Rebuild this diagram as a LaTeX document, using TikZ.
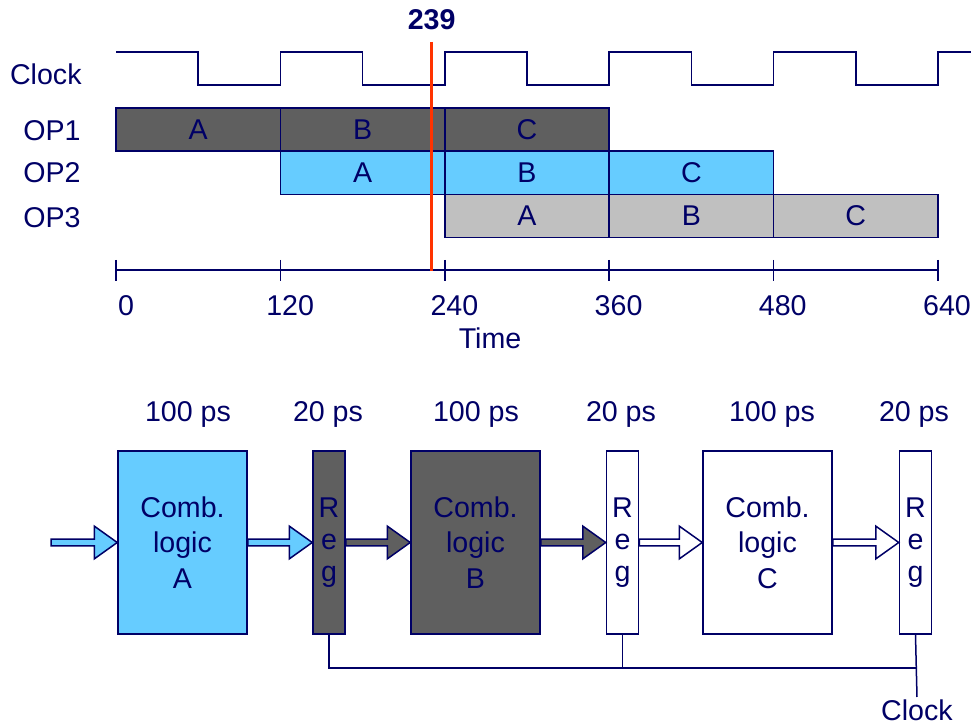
\documentclass[tikz,border=0pt]{standalone}
\usepackage{fontspec}
\setmainfont{Liberation Sans}
\usetikzlibrary{calc}
\definecolor{navy}{RGB}{0,0,102}
\definecolor{opdark}{HTML}{5F5F5F}
\definecolor{opblue}{HTML}{66CCFF}
\definecolor{oplight}{HTML}{C0C0C0}
\definecolor{marker}{HTML}{FF3300}
\tikzset{
  txt/.style={text=navy, font=\fontsize{14.3}{17.8}\selectfont},
  wire/.style={draw=navy, line width=0.75pt},
  cell/.style={wire, txt, minimum width=82.2pt, minimum height=21.7pt, inner sep=0pt},
  comb/.style={wire, txt, minimum width=64.5pt, minimum height=91.5pt, align=center},
  reg/.style={wire, txt, font=\fontsize{14.3}{16}\selectfont, minimum width=16pt,
    minimum height=91.5pt, align=center, inner sep=0pt},
}
% block arrow from one node anchor to another
\newcommand{\blockarrow}[3]{%
  \filldraw[wire, fill=#3] ($(#1)+(0,1.7pt)$) -- ($(#2)+(-11.5pt,1.7pt)$)
    -- ($(#2)+(-11.5pt,8.2pt)$) -- (#2) -- ($(#2)+(-11.5pt,-8.2pt)$)
    -- ($(#2)+(-11.5pt,-1.7pt)$) -- ($(#1)+(0,-1.7pt)$) -- cycle;}
\begin{document}
\begin{tikzpicture}[x=0.5pt, y=-0.5pt]
    \useasboundingbox (0,0) rectangle (971,727);
    % timing diagram
    \node[txt, anchor=east, inner sep=0pt] (lclock) at (82,74.5) {Clock};
    \node[txt, anchor=east, inner sep=0pt] (lop1) at (81,131) {OP1};
    \node[txt, anchor=east, inner sep=0pt] (lop2) at (81,173) {OP2};
    \node[txt, anchor=east, inner sep=0pt] (lop3) at (81,218) {OP3};
    \draw[wire] (116,52) \foreach \k in {0,...,4} { -- ++(82.2,0) -- ++(0,33) -- ++(82.2,0) -- ++(0,-33) } -- (971,52);
    \foreach \lbl [count=\i from 0] in {A,B,C} {
        \node[cell, fill=opdark] (op1\lbl) at (198.2+164.4*\i,129.5) {\lbl};
        \node[cell, fill=opblue] (op2\lbl) at (362.6+164.4*\i,172.8) {\lbl};
        \node[cell, fill=oplight] (op3\lbl) at (527+164.4*\i,216) {\lbl};
    }
    \draw[wire] (116,270) -- (938,270);
    \foreach \x in {0,...,5}
        \draw[wire] (116+164.4*\x,260) -- ++(0,21);
    \foreach \t [count=\i from 0] in {0,120,240,360,480,640}
        \node[txt] (t\t) at (126+164.2*\i,305.5) {\t};
    \node[txt] (time) at (490,338.5) {Time};
    \coordinate (now) at (431.7,42);
    \coordinate (nowend) at (431.7,271);
    \draw[marker, line width=1.5pt] (now) -- (nowend);
    \node[txt, font=\fontsize{14.3}{17}\selectfont\bfseries] (nowlbl) at (431.7,19.5) {239};
    % pipeline
    \node[comb, fill=opblue] (combA) at (182.5,542.5) {Comb.\\logic\\A};
    \node[reg, fill=opdark] (regA) at (329,542.5) {R\\e\\g};
    \node[comb, fill=opdark] (combB) at (475.5,542.5) {Comb.\\logic\\B};
    \node[reg, fill=white] (regB) at (622.5,542.5) {R\\e\\g};
    \node[comb, fill=white] (combC) at (767.5,542.5) {Comb.\\logic\\C};
    \node[reg, fill=white] (regC) at (915.5,542.5) {R\\e\\g};
    \node[txt] (dA) at (188,414) {100 ps};
    \node[txt] (rA) at (328,414) {20 ps};
    \node[txt] (dB) at (476,414) {100 ps};
    \node[txt] (rB) at (621,414) {20 ps};
    \node[txt] (dC) at (772,414) {100 ps};
    \node[txt] (rC) at (914,414) {20 ps};
    \coordinate (in) at (51,542.5);
    \blockarrow{in}{combA.west}{opblue}
    \blockarrow{combA.east}{regA.west}{opblue}
    \blockarrow{regA.east}{combB.west}{opdark}
    \blockarrow{combB.east}{regB.west}{opdark}
    \blockarrow{regB.east}{combC.west}{white}
    \blockarrow{combC.east}{regC.west}{white}
    % clock wiring
    \coordinate (clkA) at (regA.south |- 0,668);
    \coordinate (clkB) at (regB.south |- 0,668);
    \coordinate (clkC) at (regC.south |- 0,668);
    \node[txt, below, inner sep=1pt] (clk) at (917,697) {Clock};
    \draw[wire] (regA.south) -- (clkA) -- (clkC);
    \draw[wire] (regB.south) -- (clkB);
    \draw[wire] (regC.south) -- (clk.north);
\end{tikzpicture}
\end{document}
